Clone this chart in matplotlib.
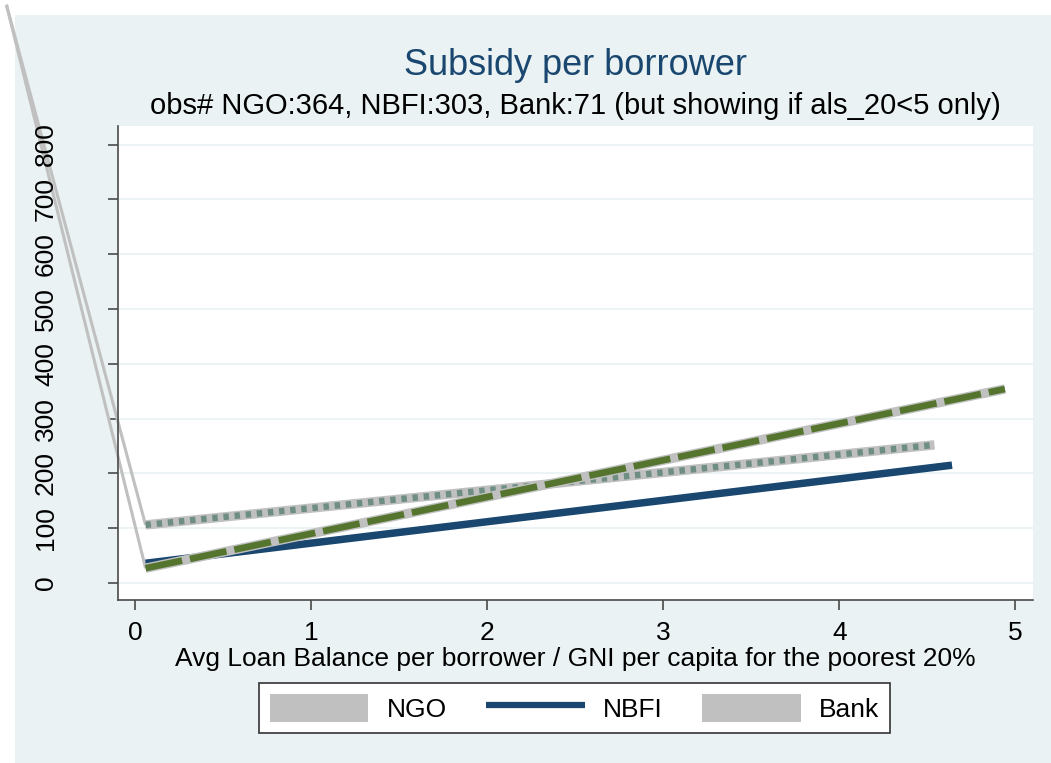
import matplotlib
matplotlib.use("Agg")
import matplotlib.pyplot as plt
from matplotlib.patches import Rectangle, Patch
from matplotlib.lines import Line2D

plt.rcParams['font.family'] = ['Liberation Sans', 'DejaVu Sans']
TICK_FS = 19

# Data (fitted lines: start/end points)
ngo_x = [0.06, 4.54]
ngo_y = [106, 252]
nbfi_x = [0.06, 4.64]
nbfi_y = [36, 215]
bank_x = [0.06, 4.94]
bank_y = [27, 354]
# stray connector origin (artifact in original)
origin_x = -0.73
origin_y = 1055

yticks = [0, 100, 200, 300, 400, 500, 600, 700, 800]
xticks = [0, 1, 2, 3, 4, 5]

title = "Subsidy per borrower"
subtitle = "obs# NGO:364, NBFI:303, Bank:71 (but showing if als_20<5 only)"
xlabel = "Avg Loan Balance per borrower / GNI per capita for the poorest 20%"
labels = ["NGO", "NBFI", "Bank"]

BG = "#eaf2f3"
NAVY = "#1a476f"
GREEN = "#55752f"
TEAL = "#6e8e84"
GRAY = "#c0c0c0"

W, H = 1051, 763
AX_L, AX_R, AX_T, AX_B = 118, 1032.7, 126, 600
fig = plt.figure(figsize=(W / 100, H / 100), dpi=100, facecolor="white")
fig.patches.append(Rectangle((15 / W, 0), 1 - 15 / W, 1 - 15 / H, transform=fig.transFigure,
                             facecolor=BG, edgecolor="none", zorder=-10))

ax = fig.add_axes([AX_L / W, 1 - AX_B / H, (AX_R - AX_L) / W, (AX_B - AX_T) / H])
ax.set_facecolor("white")
ax.set_xlim(-0.0965, 5.098)
ax.set_ylim(-31, 833.8)

for s in ["top", "right"]:
    ax.spines[s].set_visible(False)
for s in ["left", "bottom"]:
    ax.spines[s].set_color("#4a4a4a")
    ax.spines[s].set_linewidth(1.2)

ax.set_yticks(yticks)
ax.set_xticks(xticks)
ax.set_yticklabels([])
ax.set_xticklabels([])
ax.tick_params(axis="both", length=7, width=1.2, color="#4a4a4a")

# tick labels as explicit texts placed by the axis transforms
x_lab_y = (AX_B - 640) / (AX_B - AX_T)
y_lab_x = (53 - AX_L) / (AX_R - AX_L)
for v in xticks:
    ax.text(v, x_lab_y, str(v), transform=ax.get_xaxis_transform(), ha="center",
            va="baseline", fontsize=TICK_FS, clip_on=False)
for v in yticks:
    ax.text(y_lab_x, v, str(v), transform=ax.get_yaxis_transform(), ha="center",
            va="baseline", rotation=90, rotation_mode="anchor", fontsize=TICK_FS,
            clip_on=False)

ax.grid(axis="y", color=BG, linewidth=1.3, zorder=0)
ax.set_axisbelow(True)

# stray gray connectors (not clipped)
ax.plot([origin_x, ngo_x[0]], [origin_y, ngo_y[0]], color=GRAY, lw=2.2, clip_on=False,
        solid_capstyle="butt", zorder=2)
ax.plot([origin_x, bank_x[0]], [origin_y, bank_y[0]], color=GRAY, lw=2.2, clip_on=False,
        solid_capstyle="butt", zorder=2)

# NGO: gray wide line with teal dotted overlay
ax.plot(ngo_x, ngo_y, color=GRAY, lw=6.8, solid_capstyle="butt", zorder=3)
l, = ax.plot(ngo_x, ngo_y, color=TEAL, lw=4.6, solid_capstyle="butt", zorder=4)
l.set_dashes([0.85, 0.9])
l.set_dash_capstyle("butt")

# NBFI: navy solid
ax.plot(nbfi_x, nbfi_y, color=NAVY, lw=5.4, solid_capstyle="butt", zorder=5)

# Bank: gray wide line with green dashed overlay
ax.plot(bank_x, bank_y, color=GRAY, lw=6.8, solid_capstyle="butt", zorder=6)
l2, = ax.plot(bank_x, bank_y, color=GREEN, lw=4.8, solid_capstyle="butt", zorder=7)
l2.set_dashes([5.6, 1.2])
l2.set_dash_capstyle("butt")

cx = (AX_L + AX_R) / 2 / W
fig.text(cx, 1 - 666 / H, xlabel, ha="center", va="baseline", fontsize=19, color="black")
fig.text(cx, 1 - 75 / H, title, ha="center", va="baseline", fontsize=26, color=NAVY)
fig.text(cx, 1 - 114 / H, subtitle, ha="center", va="baseline", fontsize=21, color="black")

handles = [Patch(facecolor=GRAY, edgecolor="none"),
           Line2D([0], [0], color=NAVY, lw=4.5, solid_capstyle="butt"),
           Patch(facecolor=GRAY, edgecolor="none")]
leg = fig.legend(handles, labels, loc="center", bbox_to_anchor=(574.5 / W, 1 - 708 / H),
                 ncol=3, fontsize=19, frameon=True, fancybox=False, framealpha=1,
                 edgecolor="#333333", handlelength=3.75, handleheight=1.3,
                 handletextpad=0.68, columnspacing=1.5, borderpad=0.4)
leg.get_frame().set_linewidth(1.2)

fig.savefig("out.png", dpi=100, facecolor="white")
